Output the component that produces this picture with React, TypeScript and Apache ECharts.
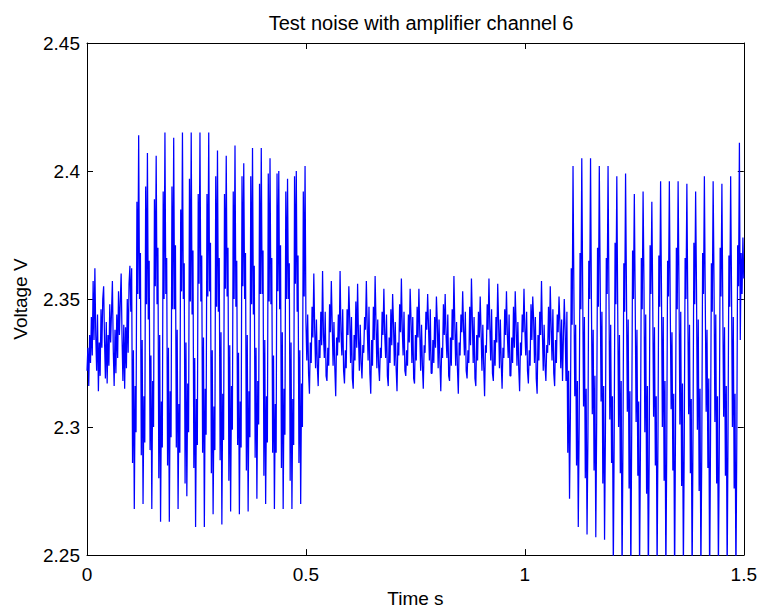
import React, { useEffect, useRef } from "react";
import * as echarts from "echarts";

const TITLE = "Test noise with amplifier channel 6";
const X_NAME = "Time s";
const Y_NAME = "Voltage V";
const SAMPLE_PERIOD_S = 0.002;
const X_MIN = 0;
const X_MAX = 1.5;
const X_STEP = 0.5;
const Y_MIN = 2.25;
const Y_MAX = 2.45;
const Y_STEP = 0.05;

// Samples in millivolts, one every 2 ms.
// 0.000 – 0.098 s : quiet start
const segQuietStart = [
  2322, 2331, 2316, 2336, 2325, 2343, 2328, 2357, 2334, 2362,
  2336, 2322, 2344, 2314, 2333, 2320, 2346, 2331, 2350, 2355,
  2334, 2319, 2341, 2317, 2336, 2324, 2348, 2333, 2345, 2357,
  2330, 2316, 2338, 2321, 2344, 2327, 2353, 2336, 2349, 2360,
  2335, 2318, 2340, 2315, 2339, 2323, 2350, 2329, 2356, 2363,
];
// 0.100 – 0.498 s : first burst
const segBurst1 = [
  2345, 2362, 2286, 2330, 2268, 2316, 2298, 2388, 2352, 2414,
  2350, 2368, 2289, 2334, 2270, 2312, 2294, 2394, 2348, 2407,
  2342, 2365, 2291, 2328, 2268, 2318, 2300, 2389, 2355, 2406,
  2348, 2370, 2280, 2336, 2263, 2310, 2292, 2392, 2350, 2415,
  2352, 2366, 2285, 2331, 2263, 2314, 2296, 2394, 2346, 2413,
  2346, 2371, 2292, 2338, 2268, 2309, 2290, 2385, 2353, 2415,
  2350, 2364, 2278, 2333, 2273, 2317, 2298, 2397, 2349, 2415,
  2344, 2369, 2284, 2327, 2261, 2311, 2293, 2391, 2356, 2415,
  2349, 2367, 2290, 2335, 2261, 2315, 2297, 2391, 2351, 2415,
  2353, 2372, 2282, 2330, 2266, 2308, 2291, 2398, 2347, 2408,
  2345, 2366, 2287, 2337, 2262, 2313, 2295, 2391, 2354, 2406,
  2351, 2370, 2279, 2332, 2267, 2316, 2299, 2392, 2350, 2410,
  2347, 2365, 2293, 2329, 2266, 2310, 2292, 2398, 2355, 2403,
  2350, 2368, 2283, 2336, 2267, 2314, 2296, 2398, 2348, 2409,
  2344, 2363, 2288, 2331, 2272, 2318, 2301, 2395, 2352, 2409,
  2352, 2369, 2281, 2334, 2270, 2312, 2294, 2399, 2349, 2405,
  2348, 2366, 2290, 2328, 2268, 2309, 2290, 2399, 2353, 2400,
  2346, 2371, 2284, 2337, 2268, 2315, 2297, 2392, 2350, 2397,
  2350, 2364, 2279, 2333, 2268, 2311, 2293, 2398, 2356, 2400,
  2345, 2367, 2286, 2330, 2270, 2317, 2300, 2392, 2351, 2402,
];
// 0.500 – 1.090 s : quiet middle
const segQuietMiddle = [
  2341, 2326, 2344, 2321, 2313, 2333, 2325, 2347, 2335, 2360,
  2338, 2323, 2342, 2324, 2316, 2334, 2327, 2345, 2332, 2361,
  2336, 2327, 2345, 2320, 2318, 2331, 2324, 2348, 2337, 2357,
  2340, 2324, 2341, 2323, 2312, 2335, 2328, 2344, 2333, 2361,
  2337, 2328, 2346, 2322, 2317, 2330, 2323, 2346, 2336, 2355,
  2342, 2325, 2343, 2319, 2315, 2336, 2326, 2349, 2331, 2356,
  2335, 2322, 2340, 2325, 2319, 2332, 2329, 2343, 2338, 2357,
  2339, 2326, 2347, 2321, 2313, 2334, 2324, 2347, 2334, 2359,
  2341, 2323, 2342, 2324, 2318, 2331, 2327, 2345, 2336, 2354,
  2336, 2327, 2344, 2320, 2316, 2335, 2325, 2346, 2332, 2352,
  2340, 2324, 2341, 2323, 2314, 2333, 2328, 2348, 2337, 2358,
  2338, 2328, 2345, 2322, 2320, 2330, 2324, 2344, 2333, 2354,
  2342, 2325, 2343, 2319, 2317, 2336, 2326, 2347, 2335, 2354,
  2337, 2322, 2340, 2324, 2315, 2332, 2329, 2345, 2338, 2352,
  2339, 2326, 2346, 2321, 2321, 2334, 2325, 2343, 2331, 2351,
  2341, 2323, 2342, 2325, 2314, 2331, 2327, 2348, 2336, 2352,
  2336, 2327, 2344, 2320, 2318, 2335, 2324, 2346, 2334, 2359,
  2340, 2324, 2341, 2323, 2313, 2333, 2328, 2344, 2337, 2353,
  2338, 2328, 2345, 2322, 2319, 2330, 2325, 2347, 2332, 2358,
  2342, 2325, 2343, 2319, 2316, 2336, 2326, 2345, 2335, 2351,
  2337, 2322, 2340, 2324, 2312, 2332, 2329, 2348, 2338, 2358,
  2339, 2326, 2346, 2321, 2318, 2334, 2324, 2343, 2333, 2356,
  2341, 2323, 2342, 2325, 2315, 2331, 2327, 2346, 2336, 2353,
  2336, 2327, 2344, 2320, 2320, 2335, 2325, 2347, 2331, 2353,
  2340, 2324, 2341, 2323, 2314, 2333, 2328, 2344, 2337, 2354,
  2338, 2328, 2345, 2322, 2317, 2330, 2324, 2348, 2334, 2351,
  2342, 2325, 2343, 2319, 2313, 2336, 2326, 2345, 2336, 2357,
  2337, 2322, 2340, 2324, 2318, 2332, 2329, 2347, 2332, 2355,
  2339, 2326, 2346, 2321, 2316, 2334, 2325, 2344, 2337, 2351,
  2341, 2323, 2342, 2318, 2335, 2350,
];
// 1.092 – 1.500 s : second burst (troughs below 2.25 V are cut by the axes)
const segBurst2 = [
  2338, 2318, 2345, 2290, 2322, 2272, 2305, 2362, 2340, 2402,
  2352, 2312, 2340, 2285, 2318, 2261, 2300, 2368, 2346, 2405,
  2355, 2308, 2343, 2280, 2315, 2258, 2296, 2365, 2350, 2405,
  2350, 2305, 2338, 2283, 2320, 2257, 2302, 2370, 2347, 2402,
  2358, 2310, 2345, 2278, 2316, 2256, 2298, 2366, 2352, 2402,
  2352, 2303, 2340, 2286, 2312, 2245, 2295, 2372, 2348, 2398,
  2347, 2300, 2336, 2282, 2318, 2242, 2292, 2364, 2345, 2399,
  2354, 2306, 2342, 2276, 2314, 2240, 2299, 2369, 2350, 2391,
  2349, 2302, 2338, 2281, 2310, 2244, 2293, 2366, 2346, 2392,
  2356, 2298, 2344, 2274, 2316, 2238, 2290, 2371, 2352, 2388,
  2350, 2304, 2339, 2285, 2312, 2243, 2296, 2367, 2347, 2396,
  2353, 2300, 2343, 2279, 2318, 2241, 2291, 2365, 2351, 2396,
  2348, 2307, 2337, 2283, 2313, 2239, 2298, 2370, 2346, 2396,
  2355, 2301, 2345, 2277, 2317, 2244, 2293, 2366, 2350, 2395,
  2349, 2305, 2340, 2282, 2311, 2240, 2297, 2372, 2348, 2392,
  2354, 2299, 2342, 2275, 2315, 2242, 2290, 2368, 2352, 2398,
  2350, 2306, 2338, 2284, 2319, 2238, 2295, 2364, 2345, 2396,
  2356, 2302, 2344, 2278, 2312, 2243, 2292, 2370, 2351, 2395,
  2348, 2304, 2339, 2281, 2316, 2241, 2298, 2367, 2347, 2398,
  2353, 2300, 2343, 2276, 2313, 2239, 2294, 2371, 2355, 2411,
  2334, 2368, 2352, 2374, 2358,
];

const FONT = "'Liberation Sans', Arial, Helvetica, sans-serif";

export default function App() {
  const ref = useRef<HTMLDivElement>(null);

  useEffect(() => {
    if (!ref.current) return;
    const chart = echarts.init(ref.current, undefined, { renderer: "svg" });

    const samples = [...segQuietStart, ...segBurst1, ...segQuietMiddle, ...segBurst2];
    const data = samples.map((mv, i) => [
      Number((i * SAMPLE_PERIOD_S).toFixed(3)),
      mv / 1000,
    ]);

    const textStyle = { color: "#000", fontFamily: FONT, fontSize: 19 };

    const xBase = {
      type: "value" as const,
      min: X_MIN,
      max: X_MAX,
      interval: X_STEP,
      splitLine: { show: false },
      axisLine: { show: true, onZero: false, lineStyle: { color: "#000", width: 1 } },
      axisTick: { show: true, inside: true, length: 6, lineStyle: { color: "#000" } },
    };
    const yBase = {
      type: "value" as const,
      min: Y_MIN,
      max: Y_MAX,
      interval: Y_STEP,
      splitLine: { show: false },
      axisLine: { show: true, onZero: false, lineStyle: { color: "#000", width: 1 } },
      axisTick: { show: true, inside: true, length: 6, lineStyle: { color: "#000" } },
    };

    chart.setOption({
      animation: false,
      backgroundColor: "#fff",
      title: {
        text: TITLE,
        left: 416,
        top: 8,
        textAlign: "center",
        textStyle: { ...textStyle, fontSize: 20, fontWeight: "normal" },
      },
      grid: { left: 87, top: 43, width: 659, height: 515, containLabel: false },
      xAxis: [
        {
          ...xBase,
          position: "bottom",
          name: X_NAME,
          nameLocation: "middle",
          nameGap: 32,
          nameTextStyle: textStyle,
          axisLabel: { ...textStyle, margin: 10 },
        },
        {
          ...xBase,
          position: "top",
          axisLabel: { show: false },
        },
      ],
      yAxis: [
        {
          ...yBase,
          position: "left",
          name: Y_NAME,
          nameLocation: "middle",
          nameGap: 57,
          nameRotate: 90,
          nameTextStyle: textStyle,
          axisLabel: { ...textStyle, margin: 7 },
        },
        {
          ...yBase,
          position: "right",
          axisLabel: { show: false },
        },
      ],
      series: [
        {
          type: "line",
          xAxisIndex: 0,
          yAxisIndex: 0,
          data,
          showSymbol: false,
          symbol: "none",
          clip: true,
          lineStyle: { color: "#0000ff", width: 1.25 },
          itemStyle: { color: "#0000ff" },
        },
      ],
    });

    return () => chart.dispose();
  }, []);

  return (
    <div
      ref={ref}
      style={{ position: "fixed", left: 0, top: 0, width: 760, height: 613, background: "#fff" }}
    />
  );
}
